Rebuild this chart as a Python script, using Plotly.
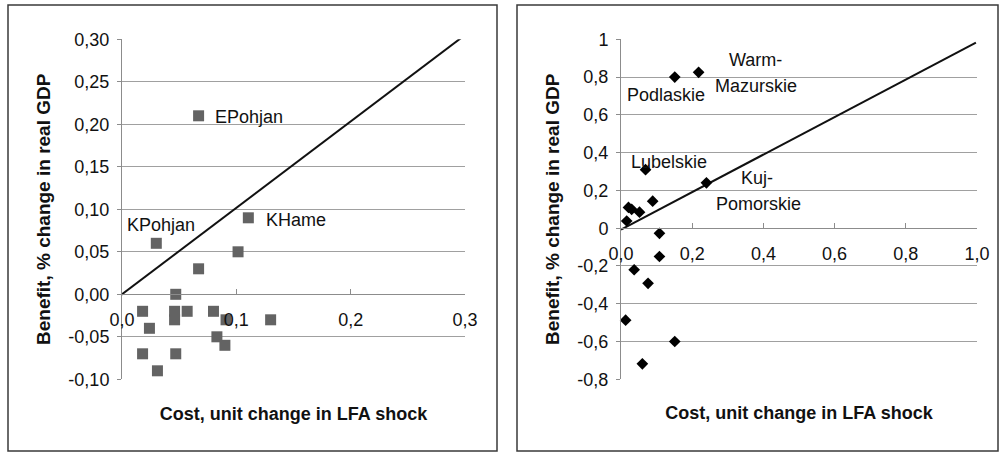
import plotly.graph_objects as go

# ---------------- data ----------------
left_cost = [0.067, 0.1105, 0.030, 0.1015, 0.067, 0.047, 0.018, 0.046, 0.046, 0.057,
             0.080, 0.091, 0.130, 0.024, 0.083, 0.090, 0.018, 0.047, 0.031]
left_benefit = [0.21, 0.09, 0.06, 0.05, 0.03, 0.00, -0.02, -0.02, -0.03, -0.02,
                -0.02, -0.03, -0.03, -0.04, -0.05, -0.06, -0.07, -0.07, -0.09]
left_line_x = [-0.002, 0.298]
left_line_y = [-0.002, 0.303]

right_cost = [0.151, 0.218, 0.069, 0.240, 0.089, 0.021, 0.030, 0.052, 0.016, 0.108,
              0.108, 0.037, 0.076, 0.013, 0.151, 0.060]
right_benefit = [0.80, 0.825, 0.31, 0.24, 0.143, 0.11, 0.10, 0.085, 0.038, -0.027,
                 -0.15, -0.22, -0.292, -0.487, -0.60, -0.718]
right_line_x = [0.0, 0.997]
right_line_y = [-0.007, 0.982]

left_xticks = [0.0, 0.1, 0.2, 0.3]
left_xtext = ["0,0", "0,1", "0,2", "0,3"]
left_yticks = [-0.10, -0.05, 0.00, 0.05, 0.10, 0.15, 0.20, 0.25, 0.30]
left_ytext = ["-0,10", "-0,05", "0,00", "0,05", "0,10", "0,15", "0,20", "0,25", "0,30"]

right_xticks = [0.0, 0.2, 0.4, 0.6, 0.8, 1.0]
right_xtext = ["0,0", "0,2", "0,4", "0,6", "0,8", "1,0"]
right_yticks = [-0.8, -0.6, -0.4, -0.2, 0.0, 0.2, 0.4, 0.6, 0.8, 1.0]
right_ytext = ["-0,8", "-0,6", "-0,4", "-0,2", "0", "0,2", "0,4", "0,6", "0,8", "1"]

left_labels = ["EPohjan", "KHame", "KPohjan"]
left_label_x = [0.0796, 0.124, 0.0026]
left_label_y = [0.209, 0.088, 0.081]

right_labels = ["Warm-", "Mazurskie", "Podlaskie", "Lubelskie", "Kuj-", "Pomorskie"]
right_label_x = [0.378, 0.378, 0.011, 0.022, 0.383, 0.385]
right_label_y = [0.89, 0.753, 0.705, 0.350, 0.266, 0.128]
right_label_anchor = ["center", "center", "left", "left", "center", "center"]

x_title = "Cost, unit change in LFA shock"
y_title = "Benefit, % change in real GDP"

# ---------------- layout geometry ----------------
W, H = 999, 452
ydom = [1 - 379.3 / H, 1 - 39.3 / H]
left_xdom = [122 / W, 465 / W]
right_xdom = [621 / W, 977 / W]
left_yrange = [-0.1, 0.3]
right_yrange = [-0.8, 1.0]


def zero_pos(yr):
    return ydom[0] + (0 - yr[0]) / (yr[1] - yr[0]) * (ydom[1] - ydom[0])


FONT = "Liberation Sans"
TXT = "#111111"
GRID = "#a0a0a0"
AXL = "#8c8c8c"

fig = go.Figure()

fig.add_trace(go.Scatter(x=left_line_x, y=left_line_y, mode="lines",
                         line=dict(color="#111111", width=2),
                         xaxis="x", yaxis="y", showlegend=False, hoverinfo="skip"))
fig.add_trace(go.Scatter(x=left_cost, y=left_benefit, mode="markers",
                         marker=dict(symbol="square", size=11, color="#636363"),
                         xaxis="x", yaxis="y", showlegend=False, cliponaxis=False))

fig.add_trace(go.Scatter(x=right_line_x, y=right_line_y, mode="lines",
                         line=dict(color="#111111", width=2),
                         xaxis="x2", yaxis="y2", showlegend=False, hoverinfo="skip"))
fig.add_trace(go.Scatter(x=right_cost, y=right_benefit, mode="markers",
                         marker=dict(symbol="diamond", size=9, color="#000000"),
                         xaxis="x2", yaxis="y2", showlegend=False, cliponaxis=False))

tickfont = dict(family=FONT, size=18, color=TXT)
titlefont = dict(family=FONT, size=18, color=TXT, weight="bold")
ytitlefont = dict(family=FONT, size=19, color=TXT, weight="bold")


def xaxis_cfg(dom, rng, tv, tt, yr, standoff):
    return dict(domain=dom, range=rng, anchor="free", position=zero_pos(yr),
                automargin=False,
                showgrid=False, zeroline=False, showline=True, linecolor=AXL,
                linewidth=1, ticks="inside", ticklen=5, tickcolor=AXL,
                tickvals=tv, ticktext=tt, tickfont=tickfont, ticklabelstandoff=9,
                title=dict(text=x_title, font=titlefont, standoff=standoff))


def yaxis_cfg(anchor, rng, tv, tt):
    return dict(domain=ydom, range=rng, anchor=anchor, showgrid=True,
                automargin=False,
                gridcolor=GRID, gridwidth=1, zeroline=False, showline=True,
                linecolor=AXL, linewidth=1, ticks="outside", ticklen=4,
                tickcolor=AXL, tickvals=tv, ticktext=tt, tickfont=tickfont,
                ticklabelstandoff=4,
                title=dict(text=y_title, font=ytitlefont, standoff=12))


annotations = []
for t, x, y in zip(left_labels, left_label_x, left_label_y):
    annotations.append(dict(text=t, x=x, y=y, xref="x", yref="y", showarrow=False,
                            xanchor="left", yanchor="middle",
                            font=dict(family=FONT, size=18, color=TXT)))
for t, x, y, a in zip(right_labels, right_label_x, right_label_y, right_label_anchor):
    annotations.append(dict(text=t, x=x, y=y, xref="x2", yref="y2", showarrow=False,
                            xanchor=a, yanchor="middle",
                            font=dict(family=FONT, size=18, color=TXT)))

shapes = [
    dict(type="rect", xref="paper", yref="paper", x0=8 / W, x1=497 / W,
         y0=1 - 451 / H, y1=1 - 5 / H, line=dict(color="#3a3a3a", width=1.5)),
    dict(type="rect", xref="paper", yref="paper", x0=517 / W, x1=998 / W,
         y0=1 - 451 / H, y1=1 - 5 / H, line=dict(color="#3a3a3a", width=1.5)),
]

fig.update_layout(
    width=W, height=H, margin=dict(l=0, r=0, t=0, b=0, autoexpand=False),
    paper_bgcolor="white", plot_bgcolor="white",
    xaxis=xaxis_cfg(left_xdom, [0, 0.3], left_xticks, left_xtext, left_yrange, 78),
    yaxis=yaxis_cfg("x", left_yrange, left_yticks, left_ytext),
    xaxis2=xaxis_cfg(right_xdom, [0, 1.0], right_xticks, right_xtext, right_yrange, 143),
    yaxis2=yaxis_cfg("x2", right_yrange, right_yticks, right_ytext),
    annotations=annotations, shapes=shapes, showlegend=False,
)

fig.write_html("out.html")
